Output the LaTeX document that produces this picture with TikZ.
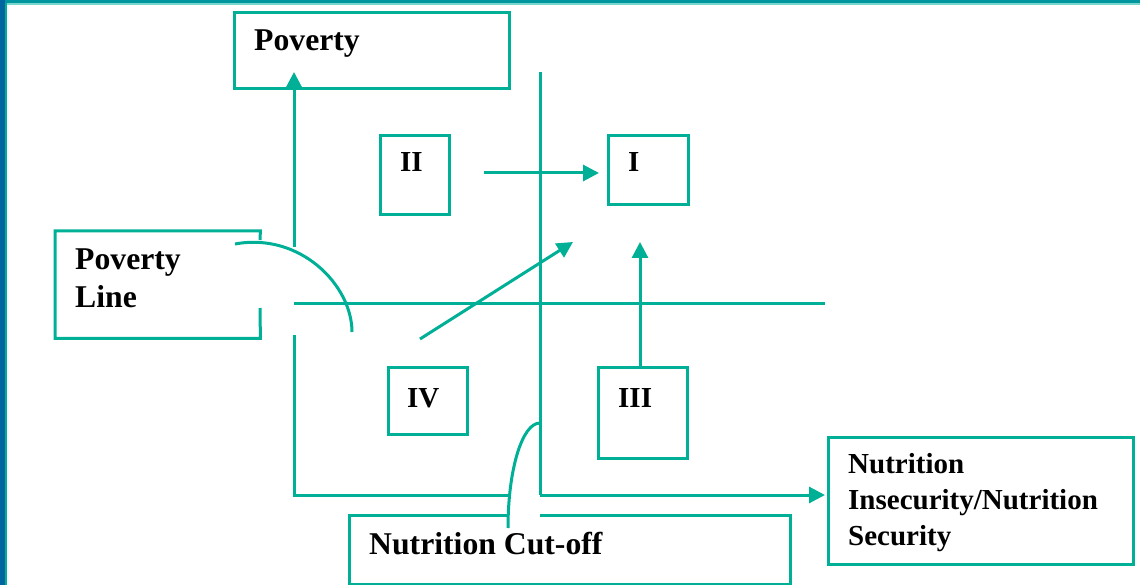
\documentclass[tikz,border=0pt]{standalone}
\usepackage{fontspec}
\setmainfont{Liberation Serif}
\usetikzlibrary{arrows.meta}
\definecolor{tealc}{RGB}{0,176,150}
\definecolor{frameblue}{RGB}{0,102,160}
\definecolor{frametop}{RGB}{0,150,160}
\definecolor{framelight}{RGB}{120,215,205}
\tikzset{
  box/.style={draw=tealc, line width=3pt, fill=none, inner sep=0pt, anchor=north west},
  nobox/.style={draw=none, inner sep=0pt, anchor=north west},
  lbl/.style={inner sep=0pt, anchor=base west, font=\bfseries\fontsize{29}{36}\selectfont, align=left},
  biglbl/.style={inner sep=0pt, anchor=base west, font=\bfseries\fontsize{31.7}{38}\selectfont, align=left},
  ln/.style={draw=tealc, line width=3pt},
  arr/.style={draw=tealc, line width=3pt, -{Triangle[length=16pt,width=16pt]}},
}
\begin{document}
\begin{tikzpicture}[x=1pt,y=-1pt]
\useasboundingbox (0,0) rectangle (1140,585);
% frame
\fill[frametop] (0,0) rectangle (1140,3.5);
\fill[framelight] (0,3.5) rectangle (1140,5);
\fill[frameblue] (0,0) rectangle (4.7,585);
\fill[tealc] (4.7,3.5) rectangle (7,585);

% boxes
\node[box, minimum width=275pt, minimum height=76pt] (pov) at (233,11) {};
\node[nobox, minimum width=205pt, minimum height=107pt] (pl) at (55,231) {};
\node[box, minimum width=69pt, minimum height=79pt] (II) at (379,134) {};
\node[box, minimum width=80pt, minimum height=69pt] (I) at (607,134) {};
\node[box, minimum width=79pt, minimum height=67pt] (IV) at (387,366) {};
\node[box, minimum width=89pt, minimum height=91pt] (III) at (597,366) {};
\node[nobox, minimum width=441pt, minimum height=69pt] (co) at (349,515) {};
\node[box, minimum width=305pt, minimum height=127pt] (ns) at (827,436) {};

% broken box outlines
\draw[ln] (260,240) -- (pl.north east) -- (pl.north west) -- (pl.south west) -- (pl.south east) -- (260,308);
\draw[ln] (508,515) -- (co.north west) -- (co.south west) -- (co.south east) -- (co.north east) -- (540,515);

% labels (base anchor = baseline of last line)
\node[biglbl] (tpov) at (254,51) {Poverty};
\node[biglbl] (tpl) at (75,308) {Poverty\\Line};
\node[lbl] (tII) at (400,172) {II};
\node[lbl] (tI) at (628,172) {I};
\node[lbl] (tIV) at (407,407) {IV};
\node[lbl] (tIII) at (618,407) {III};
\node[biglbl] (tco) at (369,554) {Nutrition Cut-off};
\node[lbl] (tns) at (848,545) {Nutrition\\Insecurity/Nutrition\\Security};

% coordinates
\coordinate (povtip) at (294,72);
\coordinate (vtop) at (294,247);
\coordinate (vbot) at (294,335);
\coordinate (corner) at (294,495);
\coordinate (hgap) at (508,495);
\coordinate (cx) at (540,495);
\coordinate (cxtop) at (540,72);
\coordinate (xtip) at (825,495);
\coordinate (plL) at (294,303);
\coordinate (plR) at (825,303);
\coordinate (a1s) at (484,173);
\coordinate (a1e) at (599,173);
\coordinate (a2s) at (420,339);
\coordinate (a2e) at (573,242);
\coordinate (a3s) at (640,366);
\coordinate (a3e) at (640,242);
\coordinate (c1s) at (235,244);
\coordinate (c1e) at (352,332);
\coordinate (c2s) at (508,528);
\coordinate (c2e) at (540,423);

% axes
\draw[arr] (vtop) -- (povtip);
\draw[ln] (vbot) -- (corner) -- (hgap);
\draw[ln] (cxtop) -- (cx);
\draw[arr] (cx) -- (xtip);
\draw[ln] (plL) -- (plR);

% quadrant arrows
\draw[arr] (a1s) -- (a1e);
\draw[arr] (a2s) -- (a2e);
\draw[arr] (a3s) -- (a3e);

% callouts
\draw[ln] (c1s) .. controls (300,232) and (352,285) .. (c1e);
\draw[ln] (c2s) .. controls (508,470) and (522,423) .. (c2e);
\end{tikzpicture}
\end{document}
